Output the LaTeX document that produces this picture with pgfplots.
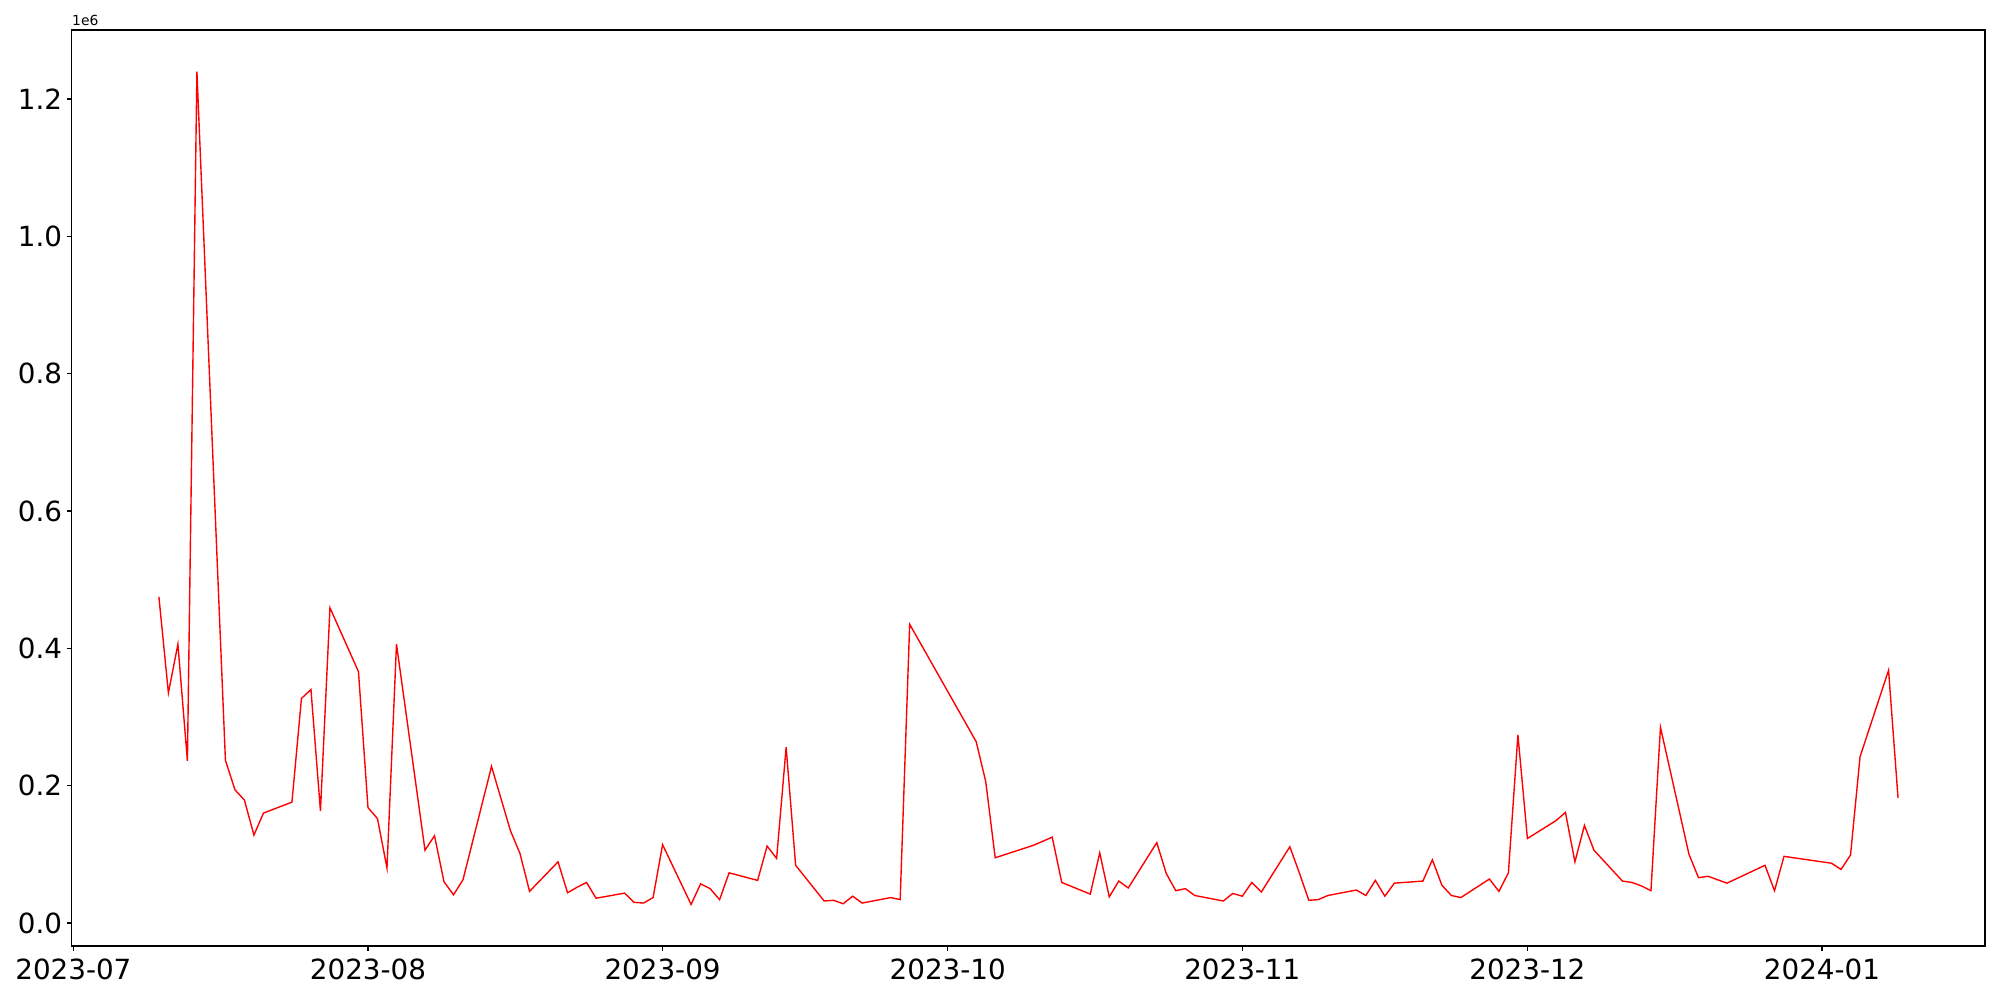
\documentclass[border=0pt]{standalone}
\usepackage{fontspec}
\setmainfont{DejaVu Sans}
\usepackage{pgfplots}
\pgfplotsset{compat=1.18}
\usepackage{pgfplotstable}

% day = days since 2023-07-01, value in units of 1e6
\pgfplotstableread{
day value
9 0.475
10 0.335
11 0.406
12 0.236
13 1.240
16 0.237
17 0.194
18 0.179
19 0.128
20 0.160
23 0.176
24 0.327
25 0.340
26 0.163
27 0.459
30 0.366
31 0.168
32 0.152
33 0.080
34 0.406
37 0.106
38 0.127
39 0.060
40 0.041
41 0.063
44 0.228
46 0.134
47 0.101
48 0.046
51 0.089
52 0.044
53 0.052
54 0.059
55 0.036
58 0.0435
59 0.030
60 0.029
61 0.037
62 0.114
65 0.027
66 0.057
67 0.050
68 0.034
69 0.073
72 0.062
73 0.112
74 0.094
75 0.256
76 0.084
79 0.032
80 0.033
81 0.028
82 0.039
83 0.029
86 0.037
87 0.034
88 0.435
95 0.264
96 0.206
97 0.095
101 0.113
103 0.125
104 0.059
107 0.042
108 0.102
109 0.038
110 0.061
111 0.051
114 0.117
115 0.072
116 0.047
117 0.050
118 0.040
121 0.032
122 0.043
123 0.039
124 0.059
125 0.045
128 0.111
129 0.073
130 0.033
131 0.034
132 0.040
135 0.048
136 0.040
137 0.062
138 0.039
139 0.058
142 0.061
143 0.092
144 0.055
145 0.040
146 0.037
149 0.064
150 0.046
151 0.073
152 0.274
153 0.123
156 0.149
157 0.161
158 0.089
159 0.142
160 0.106
163 0.061
164 0.059
165 0.054
166 0.047
167 0.285
170 0.100
171 0.066
172 0.068
174 0.058
178 0.084
179 0.047
180 0.097
185 0.087
186 0.078
187 0.099
188 0.242
191 0.368
192 0.182
}\series

\begin{document}
\begin{tikzpicture}
\begin{axis}[
  name=ax,
  scale only axis,
  width=1377.4pt,
  height=659.5pt,
  xmin=-0.15, xmax=201.15,
  ymin=-0.0335, ymax=1.3005,
  xtick={0,31,62,92,123,153,184},
  xticklabels={2023-07,2023-08,2023-09,2023-10,2023-11,2023-12,2024-01},
  xticklabel style={yshift=-2.5pt},
  ytick={0,0.2,0.4,0.6,0.8,1.0,1.2},
  yticklabel style={/pgf/number format/.cd, fixed, fixed zerofill, precision=1},
  /pgf/number format/assume math mode=true,
  tick label style={font=\fontsize{20}{24}\selectfont},
  tick pos=left,
  tick align=outside,
  major tick length=3.5pt,
  every tick/.style={black, line width=0.8pt},
  axis line style={line width=0.8pt},
  scaled y ticks=false,
]
\addplot[red, line width=1pt, mark=none] table[x=day, y=value] {\series};
\end{axis}
\node[anchor=south west, inner sep=0pt, font=\fontsize{10}{12}\selectfont]
  at ([yshift=3pt]ax.north west) {1e6};
\pgfresetboundingbox
\path (ax.south west) ++(-51.8pt,-38.9pt) coordinate (bl);
\path (ax.north east) ++(10.8pt,21.6pt) coordinate (tr);
\path[use as bounding box] (bl) rectangle (tr);
\end{tikzpicture}
\end{document}
